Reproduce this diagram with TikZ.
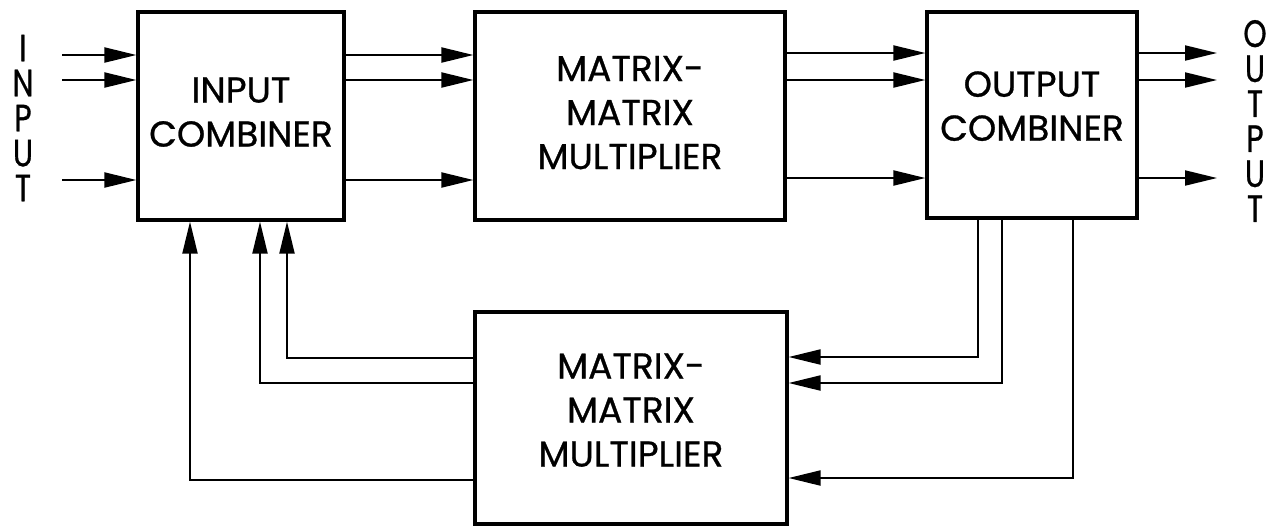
\documentclass[tikz,border=0pt]{standalone}
\usepackage{fontspec}
\setmainfont{Poppins}[FakeBold=0.8]
\newfontfamily\narrowfont{Poppins}[FakeStretch=0.78,FakeBold=0.8]
\usetikzlibrary{arrows.meta}
\tikzset{
  blockbox/.style={draw, line width=1.6pt, inner sep=0pt, align=center,
    font=\fontsize{18}{22}\selectfont},
  arr/.style={line width=1pt, -{Triangle[length=16pt,width=7.5pt]}},
  sidelbl/.style={align=center, font=\narrowfont\fontsize{19}{17.5}\selectfont}
}
\begin{document}
\begin{tikzpicture}[x=0.5pt,y=-0.5pt]
\useasboundingbox (0,0) rectangle (1269,527);
% the four blocks
\node[blockbox, minimum width=103pt, minimum height=104pt, text depth=4pt] (incomb) at (241,116) {INPUT\\COMBINER};
\node[blockbox, minimum width=155pt, minimum height=104pt, text depth=3.5pt] (mmtop) at (630,116) {MATRIX-\\MATRIX\\MULTIPLIER};
\node[blockbox, minimum width=105pt, minimum height=103pt, text depth=9pt] (outcomb) at (1032,115) {OUTPUT\\COMBINER};
\node[blockbox, minimum width=156pt, minimum height=106pt, text depth=8pt] (mmbot) at (631,418) {MATRIX-\\MATRIX\\MULTIPLIER};
% side labels
\node[sidelbl] (inlbl) at (23,118) {I\\N\\P\\U\\T};
\node[sidelbl] (outlbl) at (1255,121) {O\\U\\T\\P\\U\\T};
% forward arrows
\foreach \y in {55,80,180}
{
\coordinate (in\y) at (62,\y);
\draw[arr] (in\y) -- (incomb.west |- in\y);
\draw[arr] (incomb.east |- in\y) -- (mmtop.west |- in\y);
}
\foreach \y in {53,80,178}
{
\coordinate (out\y) at (1217,\y);
\draw[arr] (mmtop.east |- out\y) -- (outcomb.west |- out\y);
\draw[arr] (outcomb.east |- out\y) -- (out\y);
}
% feedback loop
\foreach \xa/\ya/\xb/\yb in {978/357/287/358,1002/383/260/383,1073/478/190/480}
{
\draw[arr] (outcomb.south -| \xa,0) |- (mmbot.east |- 0,\ya);
\draw[arr] (mmbot.west |- 0,\yb) -| (incomb.south -| \xb,0);
}
\end{tikzpicture}
\end{document}
